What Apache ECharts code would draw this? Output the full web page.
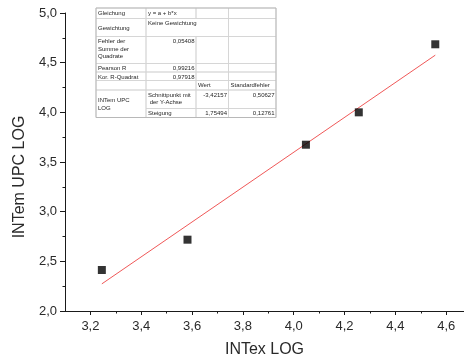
<!DOCTYPE html>
<html>
<head>
<meta charset="utf-8">
<script src="https://cdn.jsdelivr.net/npm/echarts@6/dist/echarts.min.js"></script>
<style>
  html, body { margin: 0; padding: 0; background: #fff; }
  #chart { width: 464px; height: 363px; }
</style>
</head>
<body>
<div id="chart"></div>
<script>
// Measured points (log scale)
const intexLog = [3.245, 3.582, 4.048, 4.256, 4.557];
const intemLog = [2.413, 2.718, 3.674, 4.000, 4.685];

// Linear fit y = a + b*x
const fitIntercept = -3.42157;
const fitSlope = 1.75494;
const fitInterceptErr = 0.50627;
const fitSlopeErr = 0.12761;
const fitSSE = 0.05408;
const pearsonR = 0.99216;
const adjR2 = 0.97918;

// Axis ticks
const xMajorTicks = [3.2, 3.4, 3.6, 3.8, 4.0, 4.2, 4.4, 4.6];
const xMinorTicks = [3.3, 3.5, 3.7, 3.9, 4.1, 4.3, 4.5];

const fmt = (v, d) => v.toFixed(d).replace('.', ',');

const fitLine = [intexLog[0], intexLog[intexLog.length - 1]].map(x => [x, fitIntercept + fitSlope * x]);

// Result table drawn as graphic elements
const FONT = 'Liberation Sans, Arial, sans-serif';
const colX = [96, 146, 196, 228.5, 276];
const rowY = [8, 18.5, 36.5, 63.5, 72, 80.5, 90, 108.5, 117.5];
const tableCells = [
  // [row0, row1, col0, col1, text, align, vertical]
  [0, 1, 0, 1, 'Gleichung', 'left'],
  [0, 1, 1, 2, 'y = a + b*x', 'left'],
  [0, 1, 2, 3, '', 'left'],
  [0, 1, 3, 4, '', 'left'],
  [1, 2, 0, 1, 'Gewichtung', 'left', 'middle'],
  [1, 2, 1, 3, 'Keine Gewichtung', 'left'],
  [1, 2, 3, 4, '', 'left'],
  [2, 3, 0, 1, 'Fehler der\nSumme der\nQuadrate', 'left'],
  [2, 3, 1, 2, fmt(fitSSE, 5), 'right'],
  [2, 3, 2, 3, '', 'left'],
  [2, 3, 3, 4, '', 'left'],
  [3, 4, 0, 1, 'Pearson R', 'left'],
  [3, 4, 1, 2, fmt(pearsonR, 5), 'right'],
  [3, 4, 2, 3, '', 'left'],
  [3, 4, 3, 4, '', 'left'],
  [4, 5, 0, 1, 'Kor. R-Quadrat', 'left'],
  [4, 5, 1, 2, fmt(adjR2, 5), 'right'],
  [4, 5, 2, 3, '', 'left'],
  [4, 5, 3, 4, '', 'left'],
  [5, 6, 0, 1, '', 'left'],
  [5, 6, 1, 2, '', 'left'],
  [5, 6, 2, 3, 'Wert', 'left'],
  [5, 6, 3, 4, 'Standardfehler', 'left'],
  [6, 8, 0, 1, 'INTem UPC\nLOG', 'left', 'middle'],
  [6, 7, 1, 2, 'Schnittpunkt mit\n der Y-Achse', 'left'],
  [6, 7, 2, 3, fmt(fitIntercept, 5), 'right'],
  [6, 7, 3, 4, fmt(fitInterceptErr, 5), 'right'],
  [7, 8, 1, 2, 'Steigung', 'left'],
  [7, 8, 2, 3, fmt(fitSlope, 5), 'right'],
  [7, 8, 3, 4, fmt(fitSlopeErr, 5), 'right']
];

const tableGraphics = [];
tableGraphics.push({
  type: 'rect', shape: { x: colX[0], y: rowY[0], width: colX[4] - colX[0], height: rowY[8] - rowY[0] },
  style: { fill: '#fff', stroke: null }, z: 100
});
tableCells.forEach(c => {
  const [r0, r1, c0, c1, text, align, vAlign] = c;
  const x0 = colX[c0], x1 = colX[c1], y0 = rowY[r0], y1 = rowY[r1];
  tableGraphics.push({
    type: 'rect', shape: { x: x0, y: y0, width: x1 - x0, height: y1 - y0 },
    style: { fill: 'none', stroke: '#d4d4d4', lineWidth: 0.8 }, z: 101
  });
  if (text) {
    const mid = vAlign === 'middle';
    tableGraphics.push({
      type: 'text', z: 102,
      x: align === 'right' ? x1 - 1.5 : x0 + 2,
      y: mid ? (y0 + y1) / 2 + 0.5 : y0 + 1.2,
      style: {
        text: text, fill: '#262626', font: '6px ' + FONT, lineHeight: 7.6,
        textAlign: align, textVerticalAlign: mid ? 'middle' : 'top'
      }
    });
  }
});
tableGraphics.push({
  type: 'rect', shape: { x: colX[0], y: rowY[0], width: colX[4] - colX[0], height: rowY[8] - rowY[0] },
  style: { fill: 'none', stroke: '#b8b8b8', lineWidth: 1 }, z: 103
});

const axisColor = '#1a1a1a';
const labelStyle = { color: '#2a2a2a', fontSize: 13, fontFamily: FONT };

const chart = echarts.init(document.getElementById('chart'), null, { renderer: 'canvas' });
chart.setOption({
  animation: false,
  backgroundColor: '#fff',
  grid: { left: 65, right: 0, top: 13, bottom: 52, containLabel: false },
  xAxis: [{
    type: 'value', min: 3.1, max: 4.67, position: 'bottom',
    name: 'INTex LOG', nameLocation: 'middle', nameGap: 31,
    nameTextStyle: { color: '#2a2a2a', fontSize: 16, fontFamily: FONT },
    axisLine: { show: true, onZero: false, lineStyle: { color: axisColor, width: 1 } },
    axisTick: { show: true, inside: false, length: 4, customValues: xMajorTicks, lineStyle: { color: axisColor } },
    axisLabel: { ...labelStyle, margin: 9, customValues: xMajorTicks, formatter: v => fmt(v, 1) },
    splitLine: { show: false }
  }, {
    type: 'value', min: 3.1, max: 4.67, position: 'bottom', offset: 0,
    axisLine: { show: false, onZero: false },
    axisTick: { show: true, inside: false, length: 2.5, customValues: xMinorTicks, lineStyle: { color: axisColor } },
    axisLabel: { show: false },
    splitLine: { show: false }
  }],
  yAxis: {
    type: 'value', min: 2, max: 5, interval: 0.5,
    name: 'INTem UPC LOG', nameLocation: 'middle', nameGap: 25,
    nameTextStyle: { color: '#2a2a2a', fontSize: 16, fontFamily: FONT, padding: [0, 30, 0, 0] },
    axisLine: { show: true, onZero: false, lineStyle: { color: axisColor, width: 1 } },
    axisTick: { show: true, inside: false, length: 5, lineStyle: { color: axisColor } },
    minorTick: { show: true, splitNumber: 2, length: 2.5, lineStyle: { color: axisColor } },
    axisLabel: { ...labelStyle, margin: 8, formatter: v => fmt(v, 1) },
    splitLine: { show: false }
  },
  series: [{
    type: 'line', data: fitLine, symbol: 'none', silent: true,
    lineStyle: { color: '#f05858', width: 1 }, z: 2
  }, {
    type: 'scatter', data: intexLog.map((x, i) => [x, intemLog[i]]),
    symbol: 'rect', symbolSize: 8, itemStyle: { color: '#000' }, z: 3
  }],
  graphic: tableGraphics
});
</script>
</body>
</html>
